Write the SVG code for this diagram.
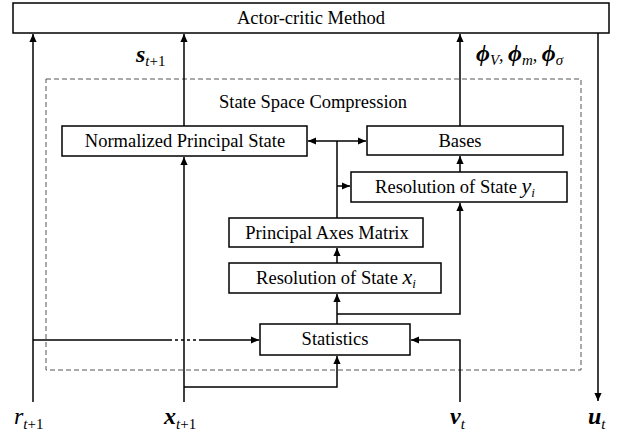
<svg xmlns="http://www.w3.org/2000/svg" width="633" height="437" viewBox="0 0 633 437">
<defs>
<marker id="ah" viewBox="0 0 10 10" refX="10" refY="5" markerWidth="9" markerHeight="8" markerUnits="userSpaceOnUse" orient="auto">
<path d="M0,0.5 L10,5 L0,9.5 z" fill="#000"/>
</marker>
<style>
.box{fill:#fff;stroke:#000;stroke-width:1.5}
.t{font-size:18.5px;fill:#000;text-anchor:middle}
.ln{fill:none;stroke:#000;stroke-width:1.5}
.ar{fill:none;stroke:#000;stroke-width:1.5;marker-end:url(#ah)}
.lab{fill:#000}
</style>
</defs>
<rect width="633" height="437" fill="#fff"/>
<g font-family="Liberation Serif, DejaVu Serif, serif">
<rect x="46" y="79" width="535" height="291" fill="none" stroke="#555" stroke-width="1" stroke-dasharray="5,3"/>
<text class="t" x="313" y="108">State Space Compression</text>

<g id="connectors">
<line class="ar" x1="33" y1="402" x2="33" y2="34"/>
<line class="ar" x1="184" y1="126" x2="184" y2="34"/>
<line class="ar" x1="460" y1="126" x2="460" y2="34"/>
<line class="ar" x1="598" y1="33" x2="598" y2="401"/>
<line class="ar" x1="184" y1="402" x2="184" y2="157"/>
<polyline class="ar" points="184,387 337,387 337,356"/>
<polyline class="ar" points="460,402 460,340 411,340"/>
<line class="ln" x1="33" y1="340" x2="169" y2="340"/>
<line class="ln" x1="169" y1="340" x2="199" y2="340" stroke-dasharray="3,3"/>
<line class="ar" x1="199" y1="340" x2="259" y2="340"/>
<line class="ar" x1="337" y1="324" x2="337" y2="294"/>
<polyline class="ar" points="337,314 460,314 460,203"/>
<line class="ar" x1="337" y1="263" x2="337" y2="248"/>
<line class="ln" x1="337" y1="218" x2="337" y2="141"/>
<line class="ar" x1="337" y1="141" x2="308" y2="141"/>
<line class="ar" x1="337" y1="141" x2="366" y2="141"/>
<line class="ar" x1="337" y1="186" x2="350" y2="186"/>
<line class="ar" x1="460" y1="172" x2="460" y2="156"/>
</g>

<g id="actor-critic"><rect class="box" x="13" y="3" width="596" height="30"/><text class="t" x="311" y="24">Actor-critic Method</text></g>
<g id="normalized"><rect class="box" x="62" y="126" width="245" height="30"/><text class="t" x="185" y="147">Normalized Principal State</text></g>
<g id="bases"><rect class="box" x="367" y="126" width="196" height="29"/><text class="t" x="460" y="147">Bases</text></g>
<g id="res-y"><rect class="box" x="351" y="172" width="216" height="30"/><text class="t" x="455" y="193">Resolution of State  <tspan font-style="italic" font-size="22">y</tspan><tspan font-style="italic" font-size="13" dy="4">i</tspan></text></g>
<g id="pam"><rect class="box" x="229" y="218" width="194" height="29"/><text class="t" x="327" y="239">Principal Axes Matrix</text></g>
<g id="res-x"><rect class="box" x="229" y="263" width="212" height="30"/><text class="t" x="336" y="284">Resolution of State  <tspan font-style="italic" font-size="22">x</tspan><tspan font-style="italic" font-size="13" dy="4">i</tspan></text></g>
<g id="statistics"><rect class="box" x="260" y="324" width="150" height="31"/><text class="t" x="335" y="345">Statistics</text></g>

<text class="lab" x="136" y="62" font-size="24" font-weight="bold" font-style="italic">s<tspan font-size="15" font-weight="normal" dy="4">t</tspan><tspan font-size="15" font-weight="normal" font-style="normal">+1</tspan></text>
<text class="lab" x="476" y="61" font-size="24" font-weight="bold" font-style="italic">ϕ<tspan font-size="15" font-weight="normal" dy="4">V</tspan><tspan font-size="18" font-weight="normal" dy="-4">, </tspan><tspan>ϕ</tspan><tspan font-size="15" font-weight="normal" dy="4">m</tspan><tspan font-size="18" font-weight="normal" dy="-4">, </tspan><tspan>ϕ</tspan><tspan font-size="15" font-weight="normal" dy="4">σ</tspan></text>
<text class="lab" x="14" y="424" font-size="24" font-style="italic">r<tspan font-size="15" dy="5">t</tspan><tspan font-size="15" font-style="normal">+1</tspan></text>
<text class="lab" x="164" y="424" font-size="24" font-weight="bold" font-style="italic">x<tspan font-size="15" font-weight="normal" dy="5">t</tspan><tspan font-size="15" font-weight="normal" font-style="normal">+1</tspan></text>
<text class="lab" x="450" y="424" font-size="24" font-weight="bold" font-style="italic">v<tspan font-size="15" font-weight="normal" dy="5">t</tspan></text>
<text class="lab" x="588" y="424" font-size="24" font-weight="bold" font-style="italic">u<tspan font-size="15" font-weight="normal" dy="5">t</tspan></text>
</g>
</svg>
